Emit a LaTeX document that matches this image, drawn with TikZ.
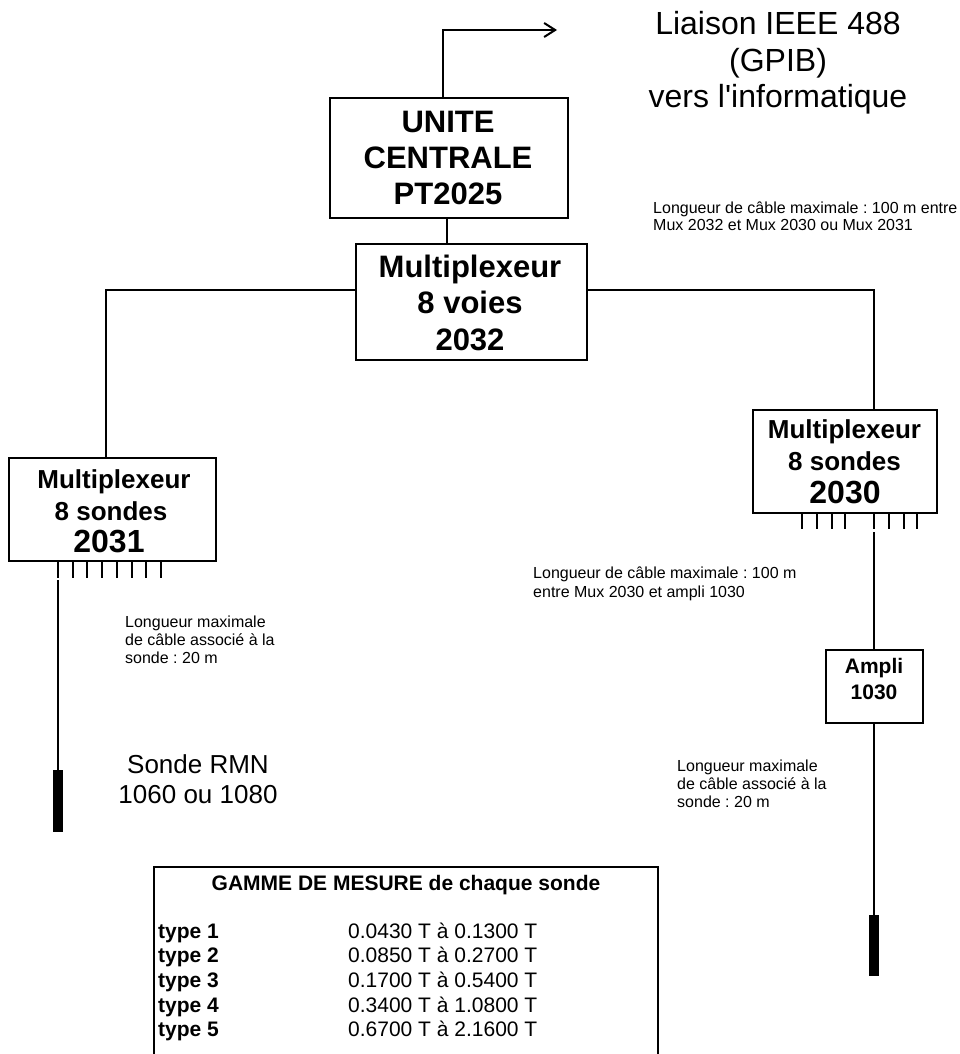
\documentclass[tikz,border=0pt]{standalone}
\usepackage{fontspec}
\setmainfont{Liberation Sans}[Ligatures=TeXOff]
\usetikzlibrary{arrows.meta}
\frenchspacing
\begin{document}
\frenchspacing
\begin{tikzpicture}[x=1pt,y=-1pt,
  box/.style={draw, line width=2pt, rectangle, inner sep=0pt},
  wire/.style={line width=2pt},
  probebar/.style={fill=black, draw=none, rectangle, inner sep=0pt, minimum width=10pt},
  tx/.style={inner sep=0pt, anchor=base},
  txl/.style={inner sep=0pt, anchor=base west},
  bigb/.style={tx, font=\bfseries\fontsize{31}{36}\selectfont},
  midb/.style={tx, font=\bfseries\fontsize{26}{31}\selectfont},
  numb/.style={tx, font=\bfseries\fontsize{32}{38}\selectfont},
  smallb/.style={tx, font=\bfseries\fontsize{21}{25}\selectfont},
  bigr/.style={tx, font=\fontsize{32}{38}\selectfont},
  midr/.style={tx, font=\fontsize{26}{31}\selectfont},
  note/.style={txl, font=\fontsize{16}{18}\selectfont},
  rowb/.style={txl, font=\bfseries\fontsize{21}{25}\selectfont},
  rowr/.style={txl, font=\fontsize{21}{25}\selectfont}
]
\useasboundingbox (0,0) rectangle (959,1054);

% boxes
\node[box, minimum width=238pt, minimum height=120pt] (uc) at (449,158) {};
\node[bigb] (uc1) at (448,132) {UNITE};
\node[bigb] (uc2) at (448,168) {CENTRALE};
\node[bigb] (uc3) at (448,204) {PT2025};

\node[box, minimum width=231pt, minimum height=116pt] (mux32) at (471.5,302) {};
\node[bigb] (m321) at (470,277) {Multiplexeur};
\node[bigb] (m322) at (470,313) {8 voies};
\node[bigb] (m323) at (470,350) {2032};

\node[box, minimum width=207pt, minimum height=103pt] (mux31) at (112.5,509.5) {};
\node[midb] (m311) at (114,488) {Multiplexeur};
\node[midb] (m312) at (111,520) {8 sondes};
\node[numb] (m313) at (109,552) {2031};

\node[box, minimum width=184pt, minimum height=103pt] (mux30) at (845,461.5) {};
\node[midb] (m301) at (844.5,438) {Multiplexeur};
\node[midb] (m302) at (844.5,470) {8 sondes};
\node[numb] (m303) at (845,503) {2030};

\node[box, minimum width=97pt, minimum height=73pt] (ampli) at (874,686.5) {};
\node[smallb] (a1) at (874,673) {Ampli};
\node[smallb] (a2) at (874,699) {1030};

\node[probebar, minimum height=62pt] (probeL) at (58,801) {};
\node[probebar, minimum height=61pt] (probeR) at (874,945.5) {};

% connectors
\coordinate (gpib) at (557,30);
\draw[wire, -{Straight Barb[length=11pt,width=14pt]}] ([xshift=-6pt]uc.north) |- (gpib);
\draw[wire] ([xshift=-2pt]uc.south) -- ([xshift=-2pt]uc.south |- mux32.north);
\draw[wire] ([yshift=12pt]mux32.west) -| ([xshift=-6.5pt]mux31.north);
\draw[wire] ([yshift=12pt]mux32.east) -| ([xshift=29pt]mux30.north);

\foreach \x in {58,72.7,87.4,102.1,116.8,131.5,146.2,160.9}
  \draw[wire] (mux31.south -| \x,0) -- ++(0,16);
\foreach \x in {802,817,832,845,874,889,904,917}
  \draw[wire] (mux30.south -| \x,0) -- ++(0,15);

\coordinate (c31) at (58,580);
\draw[wire] (c31) -- (probeL.north);
\coordinate (c30) at (874,532);
\draw[wire] (c30) -- (ampli.north);
\draw[wire] (ampli.south) -- (probeR.north);

% texts
\node[bigr] (l1) at (778,35) {Liaison IEEE 488};
\node[bigr] (l2) at (778,71.5) {(GPIB)};
\node[bigr] (l3) at (778,108) {vers l'informatique};

\node[note] (n11) at (653,213) {Longueur de câble maximale : 100 m entre};
\node[note] (n12) at (653,230) {Mux 2032 et Mux 2030 ou Mux 2031};

\node[note] (n21) at (533,578) {Longueur de câble maximale : 100 m};
\node[note] (n22) at (533,597) {entre Mux 2030 et ampli 1030};

\node[note] (n31) at (125,627) {Longueur maximale};
\node[note] (n32) at (125,645) {de câble associé à la};
\node[note] (n33) at (125,663) {sonde : 20 m};

\node[note] (n41) at (677,771) {Longueur maximale};
\node[note] (n42) at (677,789) {de câble associé à la};
\node[note] (n43) at (677,807) {sonde : 20 m};

\node[midr] (s1) at (198,773) {Sonde RMN};
\node[midr] (s2) at (198,803) {1060 ou 1080};

% table
\node[minimum width=504pt, minimum height=187pt, inner sep=0pt] (tbl) at (406,960.5) {};
\draw[wire] (tbl.south west) -- (tbl.north west) -- (tbl.north east) -- (tbl.south east);
\node[tx, font=\bfseries\fontsize{21}{25}\selectfont] (th) at (406,890) {GAMME DE MESURE de chaque sonde};
\foreach \i/\y/\v in {1/938/{0.0430 T à 0.1300 T},2/962.7/{0.0850 T à 0.2700 T},3/987.4/{0.1700 T à 0.5400 T},4/1012.1/{0.3400 T à 1.0800 T},5/1036.8/{0.6700 T à 2.1600 T}}{
  \node[rowb] (ty\i) at (158,\y) {type \i};
  \node[rowr] (tv\i) at (348,\y) {\v};
}
\end{tikzpicture}
\end{document}
